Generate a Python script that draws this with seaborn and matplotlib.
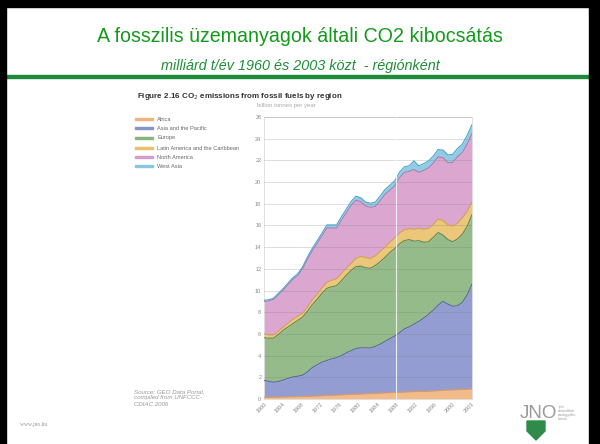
import numpy as np
import pandas as pd
import matplotlib
matplotlib.use("Agg")
import matplotlib.pyplot as plt
from matplotlib.patches import Rectangle, Polygon
import seaborn as sns

# Adatok: CO2 kibocsátás régiónként (milliárd tonna / év), leolvasva az ábráról
years = list(range(1960, 2004))

africa = [0.15, 0.16, 0.17, 0.18, 0.19, 0.20, 0.21, 0.22, 0.23, 0.24,
          0.26, 0.28, 0.30, 0.32, 0.34, 0.36, 0.38, 0.40, 0.42, 0.44,
          0.46, 0.48, 0.50, 0.52, 0.54, 0.56, 0.58, 0.60, 0.62, 0.64,
          0.66, 0.68, 0.69, 0.70, 0.72, 0.74, 0.77, 0.80, 0.82, 0.84,
          0.86, 0.88, 0.90, 0.93]
asia_pacific = [1.57, 1.46, 1.38, 1.44, 1.56, 1.70, 1.84, 1.88, 1.97, 2.26,
                2.64, 2.87, 3.10, 3.23, 3.36, 3.44, 3.62, 3.85, 4.03, 4.21,
                4.26, 4.24, 4.20, 4.33, 4.51, 4.74, 4.97, 5.20, 5.48, 5.81,
                5.99, 6.22, 6.46, 6.75, 7.08, 7.46, 7.88, 8.20, 7.93, 7.71,
                7.74, 8.02, 8.70, 9.67]
europe = [3.93, 3.98, 4.07, 4.33, 4.60, 4.75, 4.90, 5.15, 5.35, 5.60,
          5.80, 6.05, 6.35, 6.65, 6.65, 6.65, 6.90, 7.15, 7.40, 7.55,
          7.53, 7.38, 7.35, 7.45, 7.60, 7.75, 7.95, 8.05, 8.20, 8.15,
          8.05, 7.65, 7.45, 7.00, 6.70, 6.70, 6.70, 6.10, 5.95, 5.95,
          6.15, 6.30, 6.30, 6.40]
latin_america = [0.35, 0.30, 0.28, 0.30, 0.30, 0.35, 0.40, 0.40, 0.35, 0.40,
                 0.45, 0.45, 0.50, 0.55, 0.60, 0.65, 0.65, 0.65, 0.65, 0.75,
                 0.90, 0.95, 0.90, 0.90, 0.95, 0.95, 0.95, 1.00, 1.00, 1.00,
                 1.00, 1.10, 1.15, 1.20, 1.25, 1.20, 1.25, 1.35, 1.35, 1.45,
                 1.45, 1.50, 1.40, 1.20]
north_america = [3.00, 3.14, 3.28, 3.37, 3.41, 3.55, 3.69, 3.73, 4.12, 4.40,
                 4.53, 4.71, 4.79, 5.02, 4.82, 4.65, 4.93, 5.11, 5.34, 5.37,
                 5.04, 4.74, 4.72, 4.55, 4.68, 4.86, 4.79, 4.77, 5.10, 5.28,
                 5.28, 5.50, 5.15, 5.43, 5.56, 5.64, 5.72, 5.80, 5.73, 5.86,
                 6.14, 6.02, 6.20, 6.28]
west_asia = [0.10, 0.11, 0.12, 0.13, 0.14, 0.15, 0.16, 0.17, 0.18, 0.20,
             0.22, 0.24, 0.26, 0.28, 0.28, 0.30, 0.32, 0.34, 0.36, 0.38,
             0.36, 0.36, 0.38, 0.40, 0.42, 0.44, 0.46, 0.48, 0.50, 0.52,
             0.52, 0.80, 0.60, 0.62, 0.64, 0.66, 0.68, 0.70, 0.72, 0.74,
             0.76, 0.78, 0.80, 0.82]

regions = ["Africa", "Asia and the Pacific", "Europe",
           "Latin America and the Caribbean", "North America", "West Asia"]
fill_colors = ["#f2b47c", "#8893cc", "#89b47c", "#eac06a", "#d89ccb", "#86c6e2"]
edge_colors = ["#e09a5a", "#5a69a8", "#5a8a55", "#d4a448", "#b878aa", "#4aa4cc"]

tick_labels = ["1960", "1964", "1968", "1972", "1976", "1980",
               "1984", "1988", "1992", "1996", "2000", "2003"]

# Hosszú formátumú tábla a seaborn-hoz (kumulált felső határok)
df = pd.DataFrame({"year": years, "Africa": africa,
                   "Asia and the Pacific": asia_pacific, "Europe": europe,
                   "Latin America and the Caribbean": latin_america,
                   "North America": north_america, "West Asia": west_asia})
cum = df[regions].cumsum(axis=1)
cum["year"] = df["year"]
long_df = cum.melt(id_vars="year", var_name="region", value_name="top")

sns.set_style("white")
plt.rcParams["font.family"] = ["Liberation Sans", "DejaVu Sans"]

fig = plt.figure(figsize=(6, 4.44), dpi=100)
W, H = 600, 444

def fx(px):
    return px / W

def fy(py):
    return 1 - py / H

# Keret és címek
fig.patches.append(Rectangle((0, 0), fx(6), 1, transform=fig.transFigure, color="black", zorder=5))
fig.patches.append(Rectangle((fx(589), 0), fx(11), 1, transform=fig.transFigure, color="black", zorder=5))
fig.patches.append(Rectangle((0, fy(7)), 1, 7 / H, transform=fig.transFigure, color="black", zorder=5))
fig.patches.append(Rectangle((fx(6), fy(78)), fx(583), 3 / H, transform=fig.transFigure,
                             color="#1e8a3c", zorder=4))

fig.text(0.5, fy(37), "A fosszilis üzemanyagok általi CO2 kibocsátás",
         ha="center", va="center", fontsize=14.1, color="#139a1c")
fig.text(0.5, fy(66), "milliárd t/év 1960 és 2003 közt  - régiónként",
         ha="center", va="center", fontsize=10.4, style="italic", color="#1e8f36")

fig.text(fx(137), fy(96), "Figure 2.16 CO$_2$ emissions from fossil fuels by region",
         ha="left", va="center", fontsize=5.8, fontweight="bold", color="#333333")
fig.text(fx(257), fy(106), "billion tonnes per year",
         ha="left", va="center", fontsize=4.3, color="#aaaaaa")

ax = fig.add_axes([fx(264), fy(399), fx(472) - fx(264), (399 - 117) / H])

bottom = np.zeros(len(years))
for name, fc in zip(regions, fill_colors):
    top = cum[name].to_numpy()
    ax.fill_between(years, bottom, top, color=fc, alpha=0.9, linewidth=0, zorder=1)
    bottom = top

sns.lineplot(data=long_df, x="year", y="top", hue="region", hue_order=regions,
             palette=edge_colors, linewidth=0.8, legend=False, ax=ax, zorder=3)

ax.set_xlim(1960, 2003)
ax.set_ylim(0, 26)
ax.set_yticks(range(0, 27, 2))
ax.yaxis.grid(True, color="#7a7a7a", linewidth=0.5, alpha=0.35, zorder=2)
ax.set_axisbelow(False)
tick_pos = np.linspace(1960, 2003, len(tick_labels))
ax.set_xticks(tick_pos)
ax.set_xticklabels(tick_labels, rotation=45, ha="right", rotation_mode="anchor")
ax.axvline(tick_pos[7], color="white", linewidth=0.8, alpha=0.8, zorder=4)
ax.tick_params(axis="both", labelsize=4, colors="#888888", length=0, pad=2)
ax.set_xlabel("")
ax.set_ylabel("")
for side in ["left", "right", "top", "bottom"]:
    ax.spines[side].set_color("#dddddd")
    ax.spines[side].set_linewidth(0.6)

# Jelmagyarázat
leg_y = [119, 128, 138, 148, 157, 166]
for name, fc, ly in zip(regions, fill_colors, leg_y):
    fig.patches.append(Rectangle((fx(135), fy(ly) - 1.2 / H), fx(18), 2.4 / H,
                                 transform=fig.transFigure, color=fc))
    fig.text(fx(157), fy(ly), name, ha="left", va="center", fontsize=4.1, color="#666666")

fig.text(fx(134), fy(398), "Source: GEO Data Portal,\ncompiled from UNFCCC-\nCDIAC 2006",
         ha="left", va="center", fontsize=4.4, style="italic", color="#999999",
         linespacing=1.25)
fig.text(fx(20), fy(424), "www.jno.hu", ha="left", va="center", fontsize=4,
         family="Liberation Serif", color="#999999")

# JNO logó
fig.text(fx(520), fy(413), "JNO", ha="left", va="center", fontsize=13.5, color="#9a9a9a")
fig.text(fx(558), fy(413), "jövő\nnemzedékek\nországgyűlési\nbiztosa", ha="left", va="center",
         fontsize=2.2, color="#9a9a9a", linespacing=1.0)
shield = [(527, 421), (545, 421), (545, 431), (536, 440), (527, 431)]
fig.patches.append(Polygon([(fx(a), fy(b)) for a, b in shield], closed=True,
                           transform=fig.transFigure, color="#2e8b4a"))

fig.savefig("out.png", dpi=100)
